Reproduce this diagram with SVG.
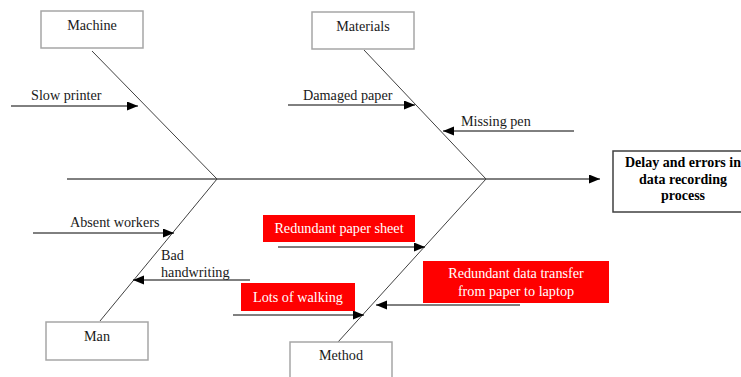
<svg xmlns="http://www.w3.org/2000/svg" width="741" height="377" viewBox="0 0 741 377">
<defs>
<marker id="ah" markerUnits="userSpaceOnUse" markerWidth="12" markerHeight="10" refX="11" refY="4.5" orient="auto">
<path d="M0,0 L11,4.5 L0,9 Z" fill="#000"/>
</marker>
</defs>
<style>
.box{fill:#fff;stroke:#a6a6a6;stroke-width:1.5}
.red{fill:#ff0000;stroke:none}
.t{font-family:"Liberation Serif","Times New Roman",serif;font-size:14.2px;fill:#1a1a1a}
.tw{font-family:"Liberation Serif","Times New Roman",serif;font-size:14.2px;fill:#fff}
.tb{font-family:"Liberation Serif","Times New Roman",serif;font-size:14px;font-weight:bold;fill:#000}
.bone{stroke:#404040;stroke-width:1;fill:none}
.arr{stroke:#000;stroke-width:1;fill:none;marker-end:url(#ah)}
</style>
<rect width="741" height="377" fill="#fff"/>
<g id="connectors">
<line class="arr" x1="67" y1="179" x2="600" y2="179"/>
<line class="bone" x1="92" y1="51" x2="217" y2="179"/>
<line class="bone" x1="364" y1="50" x2="486" y2="179"/>
<line class="bone" x1="217" y1="179" x2="100" y2="321"/>
<line class="bone" x1="486" y1="179" x2="338" y2="342"/>
<line class="arr" x1="11" y1="106" x2="138" y2="106"/>
<line class="arr" x1="288" y1="105" x2="415" y2="105"/>
<line class="arr" x1="574" y1="131" x2="443" y2="131"/>
<line class="arr" x1="33" y1="233" x2="174" y2="233"/>
<line class="arr" x1="250" y1="280" x2="133" y2="280"/>
<line class="arr" x1="278" y1="247" x2="425" y2="247"/>
<line class="arr" x1="233" y1="315" x2="364" y2="315"/>
<line class="arr" x1="520" y1="305" x2="376" y2="305"/>
</g>
<g id="machine">
<rect class="box" x="41" y="11" width="102" height="37"/>
<text class="t" x="92" y="30" text-anchor="middle">Machine</text>
</g>
<g id="materials">
<rect class="box" x="312" y="12" width="102" height="37"/>
<text class="t" x="363" y="31" text-anchor="middle">Materials</text>
</g>
<g id="man">
<rect class="box" x="46" y="322" width="102" height="38"/>
<text class="t" x="97" y="341" text-anchor="middle">Man</text>
</g>
<g id="method">
<rect class="box" x="290" y="342" width="102" height="40"/>
<text class="t" x="341" y="360" text-anchor="middle">Method</text>
</g>
<g id="effect">
<rect x="613" y="151" width="140" height="61" fill="#fff" stroke="#404040" stroke-width="1.5"/>
<text class="tb" text-anchor="middle"><tspan x="683" y="167">Delay and errors in</tspan><tspan x="683" y="184">data recording</tspan><tspan x="683" y="200">process</tspan></text>
</g>
<g id="slow-printer">
<text class="t" x="31" y="100">Slow printer</text>
</g>
<g id="damaged-paper">
<text class="t" x="303" y="100">Damaged paper</text>
</g>
<g id="missing-pen">
<text class="t" x="461" y="126">Missing pen</text>
</g>
<g id="absent-workers">
<text class="t" x="70" y="227">Absent workers</text>
</g>
<g id="bad-handwriting">
<text class="t"><tspan x="161" y="260">Bad</tspan><tspan x="161" y="277">handwriting</tspan></text>
</g>
<g id="redundant-paper-sheet">
<rect class="red" x="263" y="215" width="152" height="27"/>
<text class="tw" x="339" y="233" text-anchor="middle">Redundant paper sheet</text>
</g>
<g id="lots-of-walking">
<rect class="red" x="241" y="283" width="114" height="28"/>
<text class="tw" x="298" y="302" text-anchor="middle">Lots of walking</text>
</g>
<g id="redundant-data-transfer">
<rect class="red" x="423" y="261" width="186" height="42"/>
<text class="tw" text-anchor="middle"><tspan x="516" y="278">Redundant data transfer</tspan><tspan x="516" y="296">from paper to laptop</tspan></text>
</g>
</svg>
